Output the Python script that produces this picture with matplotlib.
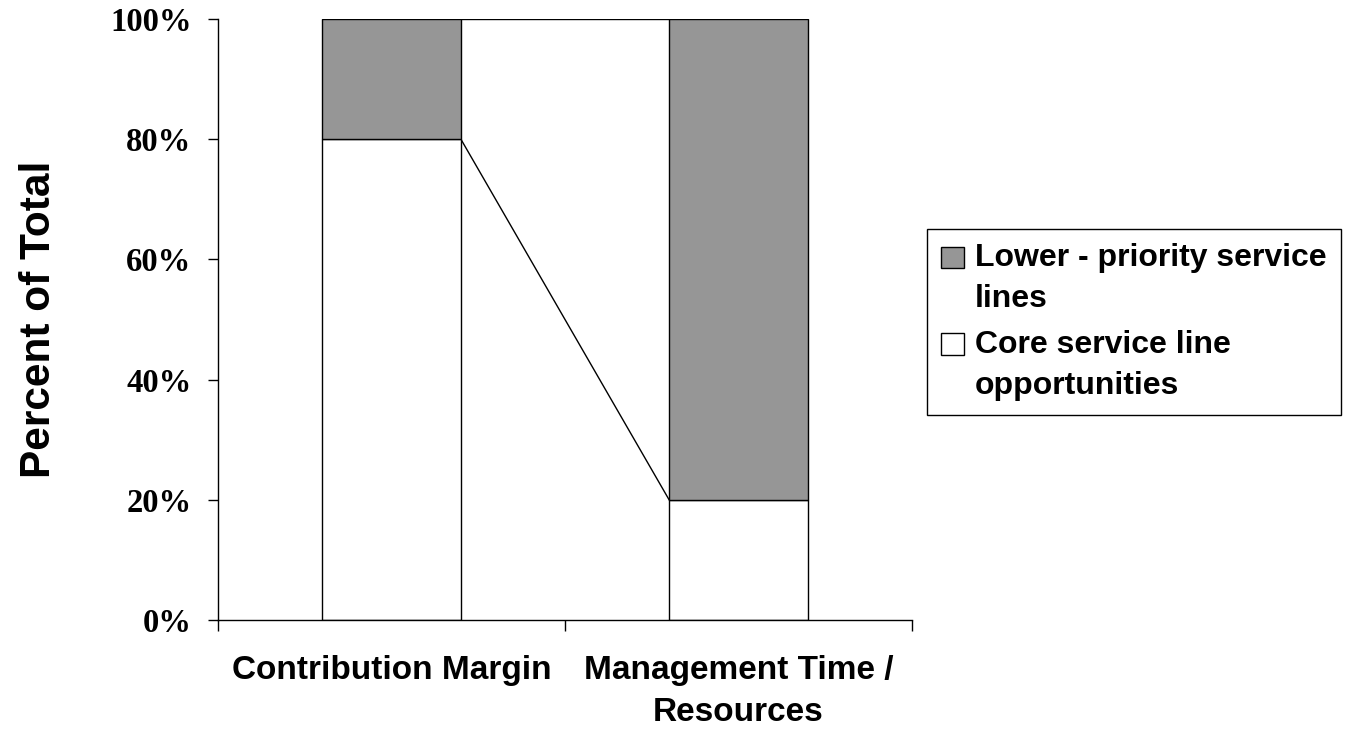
import numpy as np
import matplotlib.pyplot as plt
from matplotlib.patches import Patch, Rectangle
from matplotlib.legend_handler import HandlerPatch
from matplotlib.ticker import FixedLocator

categories = ['Contribution Margin', 'Management Time /\nResources']
core = [80, 20]      # Core service line opportunities
lower = [20, 80]     # Lower - priority service lines
yticks = [0, 20, 40, 60, 80, 100]

grey = '#969696'
width = 0.4
sans = 'Liberation Sans'

fig = plt.figure(figsize=(13.52, 7.32), dpi=100)
ax = fig.add_axes([218/1352, 1 - 620/732, (912 - 218)/1352, (620 - 19)/732])

x = np.arange(len(categories))
core = np.array(core)
lower = np.array(lower)
ax.bar(x, core, width, color='white', edgecolor='black', linewidth=1, zorder=2)
ax.bar(x, lower, width, bottom=core, color=grey, edgecolor='black', linewidth=1, zorder=2)

# series lines between the stacked bars
for tops in (core, core + lower):
    ax.plot([x[0] + width/2, x[1] - width/2], [tops[0], tops[1]],
            color='black', linewidth=1, zorder=1)

ax.set_xlim(-0.5, 1.5)
ax.set_ylim(0, 100)
for s in ('top', 'right'):
    ax.spines[s].set_visible(False)
ax.spines['left'].set_linewidth(1)
ax.spines['bottom'].set_linewidth(1)

ax.set_yticks(yticks)
ax.set_yticklabels(['%d%%' % v for v in yticks],
                   fontfamily='Liberation Serif', fontweight='bold', fontsize=23.5)
ax.tick_params(axis='y', direction='out', length=7, width=1, pad=12)

ax.set_xticks(x)
ax.set_xticklabels(categories, fontfamily=sans, fontweight='bold',
                   fontsize=24, linespacing=1.45)
ax.tick_params(axis='x', which='major', length=0, pad=25)
ax.xaxis.set_minor_locator(FixedLocator([-0.5, 0.5, 1.5]))
ax.tick_params(axis='x', which='minor', direction='out', length=8, width=1)

ax.set_ylabel('Percent of Total', fontfamily=sans, fontweight='bold', fontsize=30.5)
ax.yaxis.set_label_coords(-0.229, 0.5)


# legend swatch sits beside the first line of a two-line label
def top_square(legend, orig_handle, xdescent, ydescent, width, height, fontsize):
    return Rectangle((-xdescent, -ydescent + 0.68 * fontsize), width, height)


handles = [Patch(facecolor=grey, edgecolor='black', linewidth=1),
           Patch(facecolor='white', edgecolor='black', linewidth=1)]
labels = ['Lower - priority service\nlines', 'Core service line\nopportunities']
leg = fig.legend(handles, labels, loc='upper left',
                 bbox_to_anchor=(927/1352, 1 - 229/732),
                 prop={'family': sans, 'weight': 'bold', 'size': 23},
                 handler_map={Patch: HandlerPatch(patch_func=top_square)},
                 fancybox=False, edgecolor='black', framealpha=1,
                 handlelength=0.72, handleheight=0.66, handletextpad=0.34,
                 borderpad=0.45, labelspacing=0.48, borderaxespad=0)
leg.get_frame().set_linewidth(1)
for t in leg.get_texts():
    t.set_linespacing(1.48)

fig.savefig('out.png', dpi=100)
